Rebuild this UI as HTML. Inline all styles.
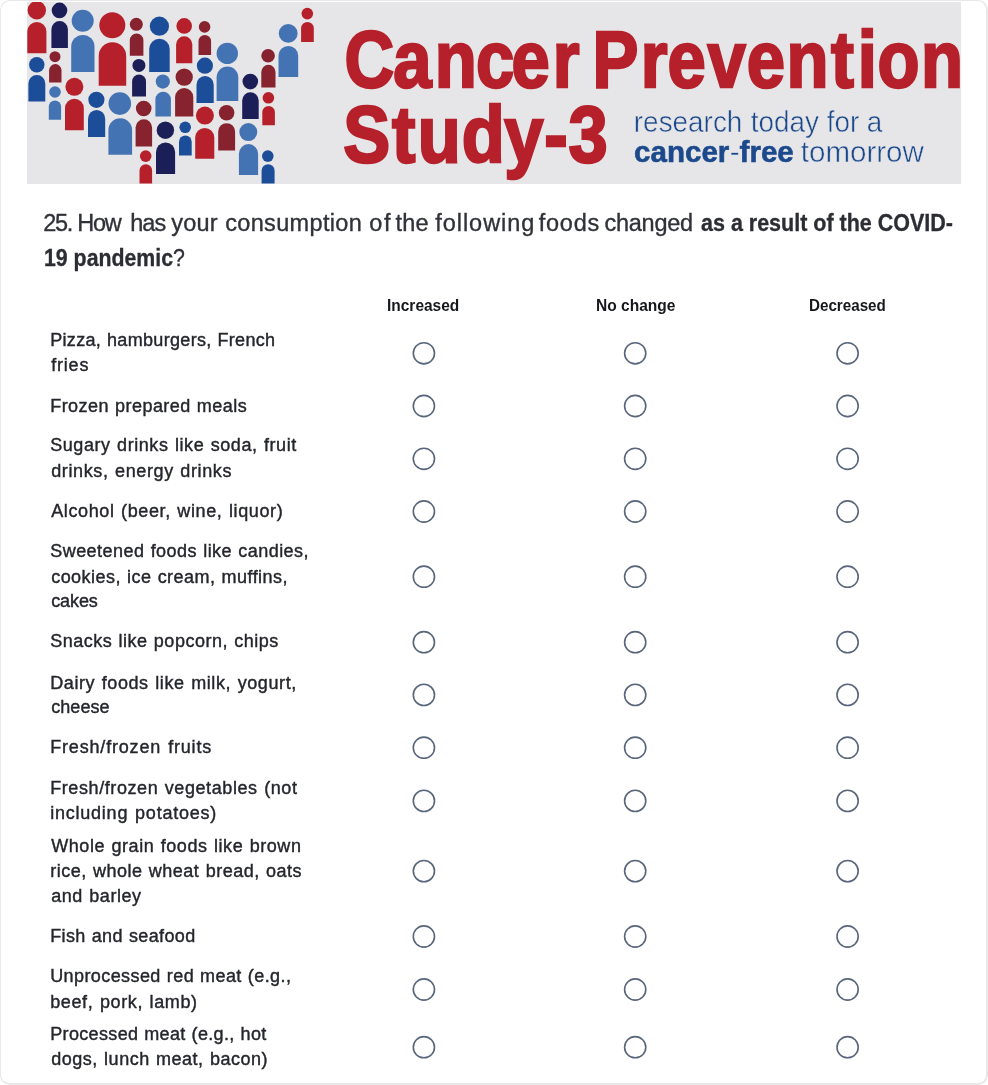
<!DOCTYPE html>
<html lang="en"><head><meta charset="utf-8"><title>Cancer Prevention Study-3</title>
<style>
html,body{margin:0;padding:0;background:#fff;}
body{width:988px;height:1085px;position:relative;overflow:hidden;font-family:"Liberation Sans",sans-serif;color:#32353c;}
.card{position:absolute;left:0;top:0;width:985px;height:1082px;border:solid #e8e8e8;border-width:1px 2px 2px 1px;border-radius:10px;box-sizing:content-box;}
.banner{position:absolute;left:27px;top:2px;width:934px;height:182px;display:block;}
.t{position:absolute;white-space:nowrap;line-height:20px;height:20px;transform-origin:0 0;}
.q{font-size:23.5px;line-height:26px;height:26px;color:#303238;-webkit-text-stroke:0.35px #303238;}
.q1 span{position:absolute;top:0;font-kerning:none;}
.q b{color:#2b2d33;-webkit-text-stroke:0.3px #2b2d33;}
.l{font-size:18px;color:#24262b;-webkit-text-stroke:0.4px #24262b;}
.h{font-size:16px;font-weight:bold;color:#16181c;}
.radios{position:absolute;left:0;top:0;pointer-events:none;}
</style></head><body>
<div class="card"></div>

<svg class="banner" viewBox="27 2 934 182">
<rect x="27" y="2" width="934" height="182" fill="#e6e6e8"/>
<circle cx="36.8" cy="10.3" r="9.2" fill="#b5202b"/><path d="M27.3 53.3V31.5A9.55 9.55 0 0 1 46.4 31.5V53.3Z" fill="#b5202b"/>
<circle cx="59.5" cy="10.4" r="7.8" fill="#1c1f57"/><path d="M51.4 47.9V29.3A8.25 8.25 0 0 1 67.9 29.3V47.9Z" fill="#1c1f57"/>
<circle cx="82.7" cy="20.8" r="11.0" fill="#4473b4"/><path d="M71.2 72.0V46.6A11.65 11.65 0 0 1 94.5 46.6V72.0Z" fill="#4473b4"/>
<circle cx="112.3" cy="25.3" r="13.0" fill="#b5202b"/><path d="M98.7 85.8V55.9A13.75 13.75 0 0 1 126.2 55.9V85.8Z" fill="#b5202b"/>
<circle cx="136.3" cy="24.3" r="6.5" fill="#87222f"/><path d="M129.8 55.7V40.2A6.80 6.80 0 0 1 143.4 40.2V55.7Z" fill="#87222f"/>
<circle cx="159.4" cy="26.2" r="9.6" fill="#1b4d99"/><path d="M149.2 71.9V49.1A10.25 10.25 0 0 1 169.7 49.1V71.9Z" fill="#1b4d99"/>
<circle cx="184.2" cy="25.9" r="7.8" fill="#b5202b"/><path d="M176.1 63.2V44.4A8.10 8.10 0 0 1 192.3 44.4V63.2Z" fill="#b5202b"/>
<circle cx="204.6" cy="26.9" r="5.8" fill="#87222f"/><path d="M198.5 55.0V41.3A6.30 6.30 0 0 1 211.1 41.3V55.0Z" fill="#87222f"/>
<circle cx="227.3" cy="53.4" r="10.7" fill="#4473b4"/><path d="M216.6 101.0V77.3A10.85 10.85 0 0 1 238.3 77.3V101.0Z" fill="#4473b4"/>
<circle cx="250.3" cy="81.6" r="7.8" fill="#1c1f57"/><path d="M242.2 118.9V100.5A8.25 8.25 0 0 1 258.7 100.5V118.9Z" fill="#1c1f57"/>
<circle cx="268.1" cy="55.7" r="6.8" fill="#87222f"/><path d="M261.3 87.4V71.9A7.10 7.10 0 0 1 275.5 71.9V87.4Z" fill="#87222f"/>
<circle cx="288.2" cy="33.4" r="9.4" fill="#4473b4"/><path d="M278.5 77.1V55.8A9.85 9.85 0 0 1 298.2 55.8V77.1Z" fill="#4473b4"/>
<circle cx="307.3" cy="13.6" r="5.8" fill="#b5202b"/><path d="M301.1 42.1V28.3A6.35 6.35 0 0 1 313.8 28.3V42.1Z" fill="#b5202b"/>
<circle cx="268.4" cy="97.8" r="5.8" fill="#b5202b"/><path d="M262.3 125.3V112.2A6.30 6.30 0 0 1 274.9 112.2V125.3Z" fill="#b5202b"/>
<circle cx="36.8" cy="64.8" r="7.7" fill="#1b4d99"/><path d="M28.4 101.4V83.5A8.45 8.45 0 0 1 45.3 83.5V101.4Z" fill="#1b4d99"/>
<circle cx="55.0" cy="56.7" r="5.5" fill="#87222f"/><path d="M49.1 82.6V70.3A6.20 6.20 0 0 1 61.5 70.3V82.6Z" fill="#87222f"/>
<circle cx="55.0" cy="92.0" r="5.8" fill="#4473b4"/><path d="M48.8 119.8V106.6A6.15 6.15 0 0 1 61.1 106.6V119.8Z" fill="#4473b4"/>
<circle cx="74.4" cy="86.8" r="9.0" fill="#b5202b"/><path d="M65.0 130.2V108.2A9.40 9.40 0 0 1 83.8 108.2V130.2Z" fill="#b5202b"/>
<circle cx="96.4" cy="99.8" r="8.1" fill="#1b4d99"/><path d="M88.0 137.0V118.7A8.60 8.60 0 0 1 105.2 118.7V137.0Z" fill="#1b4d99"/>
<circle cx="119.8" cy="103.6" r="11.3" fill="#4473b4"/><path d="M108.4 154.8V130.1A11.85 11.85 0 0 1 132.1 130.1V154.8Z" fill="#4473b4"/>
<circle cx="138.9" cy="65.4" r="6.5" fill="#1c1f57"/><path d="M132.1 96.5V81.5A6.95 6.95 0 0 1 146.0 81.5V96.5Z" fill="#1c1f57"/>
<circle cx="162.8" cy="81.6" r="7.1" fill="#4473b4"/><path d="M155.4 116.6V99.5A7.75 7.75 0 0 1 170.9 99.5V116.6Z" fill="#4473b4"/>
<circle cx="184.2" cy="77.1" r="8.7" fill="#87222f"/><path d="M175.1 116.6V97.2A9.10 9.10 0 0 1 193.3 97.2V116.6Z" fill="#87222f"/>
<circle cx="204.9" cy="65.7" r="8.1" fill="#1b4d99"/><path d="M196.5 103.0V84.7A8.60 8.60 0 0 1 213.7 84.7V103.0Z" fill="#1b4d99"/>
<circle cx="143.7" cy="108.5" r="7.8" fill="#87222f"/><path d="M135.6 146.4V127.5A8.25 8.25 0 0 1 152.1 127.5V146.4Z" fill="#87222f"/>
<circle cx="165.4" cy="130.2" r="8.7" fill="#1c1f57"/><path d="M156.0 173.9V152.1A9.55 9.55 0 0 1 175.1 152.1V173.9Z" fill="#1c1f57"/>
<circle cx="185.2" cy="127.3" r="5.8" fill="#1b4d99"/><path d="M179.0 155.5V141.8A6.35 6.35 0 0 1 191.7 141.8V155.5Z" fill="#1b4d99"/>
<circle cx="204.9" cy="115.6" r="9.0" fill="#b5202b"/><path d="M195.2 158.7V137.5A9.55 9.55 0 0 1 214.3 137.5V158.7Z" fill="#b5202b"/>
<circle cx="226.6" cy="112.7" r="7.8" fill="#87222f"/><path d="M218.2 150.6V131.6A8.45 8.45 0 0 1 235.1 131.6V150.6Z" fill="#87222f"/>
<circle cx="248.3" cy="132.1" r="9.0" fill="#4473b4"/><path d="M238.9 174.9V153.7A9.60 9.60 0 0 1 258.1 153.7V174.9Z" fill="#4473b4"/>
<circle cx="145.7" cy="156.1" r="5.8" fill="#b5202b"/><path d="M139.5 183.6V170.5A6.30 6.30 0 0 1 152.1 170.5V183.6Z" fill="#b5202b"/>
<circle cx="267.8" cy="156.1" r="5.8" fill="#1b4d99"/><path d="M261.6 183.6V170.7A6.50 6.50 0 0 1 274.6 170.7V183.6Z" fill="#1b4d99"/>
<g font-family="Liberation Sans, sans-serif" font-weight="bold" fill="#b5202b" stroke="#b5202b" stroke-width="2.5" stroke-linejoin="miter" stroke-miterlimit="3">
<text id="bt1" transform="scale(0.86,1)" x="400.6 457.3 505.4 553.5 594.9 642.6 682.6 689.0 745.1 776.1 822.7 868.4 914.5 966.3 997.4 1020.5 1071.0" y="86.65" font-size="80" >Cancer Prevention</text>
<text id="bt2" transform="scale(0.88,1)" x="390.0 445.6 474.8 524.6 572.9 618.5 646.1" y="162.25" font-size="80" >Study-3</text>
</g>
<g font-family="Liberation Sans, sans-serif" fill="#1b498c" font-size="30">
<text id="bt3" transform="scale(0.93,1)" y="131.8" stroke="#e6e6e8" stroke-width="0.5"><tspan x="681.56">research</tspan> <tspan x="807.30">today</tspan> <tspan x="888.98">for</tspan> <tspan x="932.10">a</tspan></text>
<text id="bt4" transform="scale(0.985,1)" y="161.7"><tspan x="643.76" font-weight="bold" stroke="#1b498c" stroke-width="0.6">cancer</tspan><tspan x="740.89" stroke="#e6e6e8" stroke-width="0.5">-</tspan><tspan x="750.86" font-weight="bold" stroke="#1b498c" stroke-width="0.6">free</tspan> <tspan x="812.96" stroke="#e6e6e8" stroke-width="0.5">tomorrow</tspan></text>
</g>
</svg>
<div class="t q q1" style="left:0;top:209.60px;width:700px">
<span id="w0" style="left:43.30px;letter-spacing:-1.300px">25.</span> <span id="w1" style="left:77.25px;letter-spacing:-1.300px">How</span> <span id="w2" style="left:130.17px;letter-spacing:-0.905px">has</span> <span id="w3" style="left:171.34px;letter-spacing:0.144px">your</span> <span id="w4" style="left:225.20px;letter-spacing:0.338px">consumption</span> <span id="w5" style="left:369.24px;letter-spacing:1.600px">of</span> <span id="w6" style="left:395.54px;letter-spacing:0.216px">the</span> <span id="w7" style="left:435.27px;letter-spacing:0.951px">following</span> <span id="w8" style="left:538.67px;letter-spacing:0.799px">foods</span> <span id="w9" style="left:604.60px;letter-spacing:-0.292px">changed</span>
</div>
<div class="t q" id="q1b" style="left:700.70px;top:209.60px;letter-spacing:0.000px;word-spacing:0.000px;transform:scaleX(0.9146)"><b>as a result of the COVID-</b></div>
<div class="t q" id="q2a" style="left:43.80px;top:244.80px;letter-spacing:0.000px;word-spacing:0.000px;transform:scaleX(0.9065)"><b>19 pandemic</b>?</div>
<div class="t h" id="h1" style="left:387.40px;top:296.20px;letter-spacing:0.000px;word-spacing:0.000px;transform:scaleX(0.9672)">Increased</div>
<div class="t h" id="h2" style="left:596.10px;top:296.20px;letter-spacing:0.000px;word-spacing:0.000px;transform:scaleX(0.9706)">No change</div>
<div class="t h" id="h3" style="left:808.50px;top:296.20px;letter-spacing:0.000px;word-spacing:0.000px;transform:scaleX(0.9488)">Decreased</div>
<div class="t l" id="l0" style="left:50.20px;top:329.70px;letter-spacing:0.326px;word-spacing:0.489px">Pizza, hamburgers, French</div>
<div class="t l" id="l1" style="left:51.20px;top:355.40px;letter-spacing:0.800px;word-spacing:1.200px">fries</div>
<div class="t l" id="l2" style="left:50.20px;top:395.50px;letter-spacing:0.452px;word-spacing:0.678px">Frozen prepared meals</div>
<div class="t l" id="l3" style="left:50.20px;top:435.30px;letter-spacing:0.571px;word-spacing:0.857px">Sugary drinks like soda, fruit</div>
<div class="t l" id="l4" style="left:51.20px;top:461.20px;letter-spacing:0.617px;word-spacing:0.926px">drinks, energy drinks</div>
<div class="t l" id="l5" style="left:51.20px;top:501.00px;letter-spacing:0.616px;word-spacing:0.924px">Alcohol (beer, wine, liquor)</div>
<div class="t l" id="l6" style="left:50.20px;top:541.20px;letter-spacing:0.468px;word-spacing:0.702px">Sweetened foods like candies,</div>
<div class="t l" id="l7" style="left:51.20px;top:566.90px;letter-spacing:0.463px;word-spacing:0.695px">cookies, ice cream, muffins,</div>
<div class="t l" id="l8" style="left:51.20px;top:591.40px;letter-spacing:-0.100px;word-spacing:-0.150px">cakes</div>
<div class="t l" id="l9" style="left:50.20px;top:631.00px;letter-spacing:0.508px;word-spacing:0.763px">Snacks like popcorn, chips</div>
<div class="t l" id="l10" style="left:50.20px;top:672.50px;letter-spacing:0.600px;word-spacing:0.900px">Dairy foods like milk, yogurt,</div>
<div class="t l" id="l11" style="left:51.20px;top:697.10px;letter-spacing:0.080px;word-spacing:0.120px">cheese</div>
<div class="t l" id="l12" style="left:50.20px;top:737.20px;letter-spacing:0.821px;word-spacing:1.231px">Fresh/frozen fruits</div>
<div class="t l" id="l13" style="left:50.20px;top:778.00px;letter-spacing:0.587px;word-spacing:0.880px">Fresh/frozen vegetables (not</div>
<div class="t l" id="l14" style="left:50.20px;top:802.90px;letter-spacing:0.769px;word-spacing:1.154px">including potatoes)</div>
<div class="t l" id="l15" style="left:51.20px;top:835.50px;letter-spacing:0.564px;word-spacing:0.845px">Whole grain foods like brown</div>
<div class="t l" id="l16" style="left:50.20px;top:860.70px;letter-spacing:0.506px;word-spacing:0.759px">rice, whole wheat bread, oats</div>
<div class="t l" id="l17" style="left:51.20px;top:886.10px;letter-spacing:0.552px;word-spacing:0.829px">and barley</div>
<div class="t l" id="l18" style="left:50.20px;top:926.30px;letter-spacing:0.389px;word-spacing:0.583px">Fish and seafood</div>
<div class="t l" id="l19" style="left:50.20px;top:966.10px;letter-spacing:0.413px;word-spacing:0.620px">Unprocessed red meat (e.g.,</div>
<div class="t l" id="l20" style="left:50.20px;top:991.50px;letter-spacing:0.621px;word-spacing:0.932px">beef, pork, lamb)</div>
<div class="t l" id="l21" style="left:50.20px;top:1023.70px;letter-spacing:0.351px;word-spacing:0.526px">Processed meat (e.g., hot</div>
<div class="t l" id="l22" style="left:51.20px;top:1049.40px;letter-spacing:0.516px;word-spacing:0.775px">dogs, lunch meat, bacon)</div>
<svg class="radios" width="988" height="1085" viewBox="0 0 988 1085"><g fill="#fff" stroke="#59657a" stroke-width="1.6">
<circle cx="423.9" cy="353.3" r="10.6"/>
<circle cx="635.2" cy="353.3" r="10.6"/>
<circle cx="847.6" cy="353.3" r="10.6"/>
<circle cx="423.9" cy="406.0" r="10.6"/>
<circle cx="635.2" cy="406.0" r="10.6"/>
<circle cx="847.6" cy="406.0" r="10.6"/>
<circle cx="423.9" cy="458.8" r="10.6"/>
<circle cx="635.2" cy="458.8" r="10.6"/>
<circle cx="847.6" cy="458.8" r="10.6"/>
<circle cx="423.9" cy="511.5" r="10.6"/>
<circle cx="635.2" cy="511.5" r="10.6"/>
<circle cx="847.6" cy="511.5" r="10.6"/>
<circle cx="423.9" cy="576.7" r="10.6"/>
<circle cx="635.2" cy="576.7" r="10.6"/>
<circle cx="847.6" cy="576.7" r="10.6"/>
<circle cx="423.9" cy="642.2" r="10.6"/>
<circle cx="635.2" cy="642.2" r="10.6"/>
<circle cx="847.6" cy="642.2" r="10.6"/>
<circle cx="423.9" cy="694.9" r="10.6"/>
<circle cx="635.2" cy="694.9" r="10.6"/>
<circle cx="847.6" cy="694.9" r="10.6"/>
<circle cx="423.9" cy="747.7" r="10.6"/>
<circle cx="635.2" cy="747.7" r="10.6"/>
<circle cx="847.6" cy="747.7" r="10.6"/>
<circle cx="423.9" cy="800.9" r="10.6"/>
<circle cx="635.2" cy="800.9" r="10.6"/>
<circle cx="847.6" cy="800.9" r="10.6"/>
<circle cx="423.9" cy="871.1" r="10.6"/>
<circle cx="635.2" cy="871.1" r="10.6"/>
<circle cx="847.6" cy="871.1" r="10.6"/>
<circle cx="423.9" cy="936.5" r="10.6"/>
<circle cx="635.2" cy="936.5" r="10.6"/>
<circle cx="847.6" cy="936.5" r="10.6"/>
<circle cx="423.9" cy="989.5" r="10.6"/>
<circle cx="635.2" cy="989.5" r="10.6"/>
<circle cx="847.6" cy="989.5" r="10.6"/>
<circle cx="423.9" cy="1047.2" r="10.6"/>
<circle cx="635.2" cy="1047.2" r="10.6"/>
<circle cx="847.6" cy="1047.2" r="10.6"/>
</g></svg>
</body></html>
